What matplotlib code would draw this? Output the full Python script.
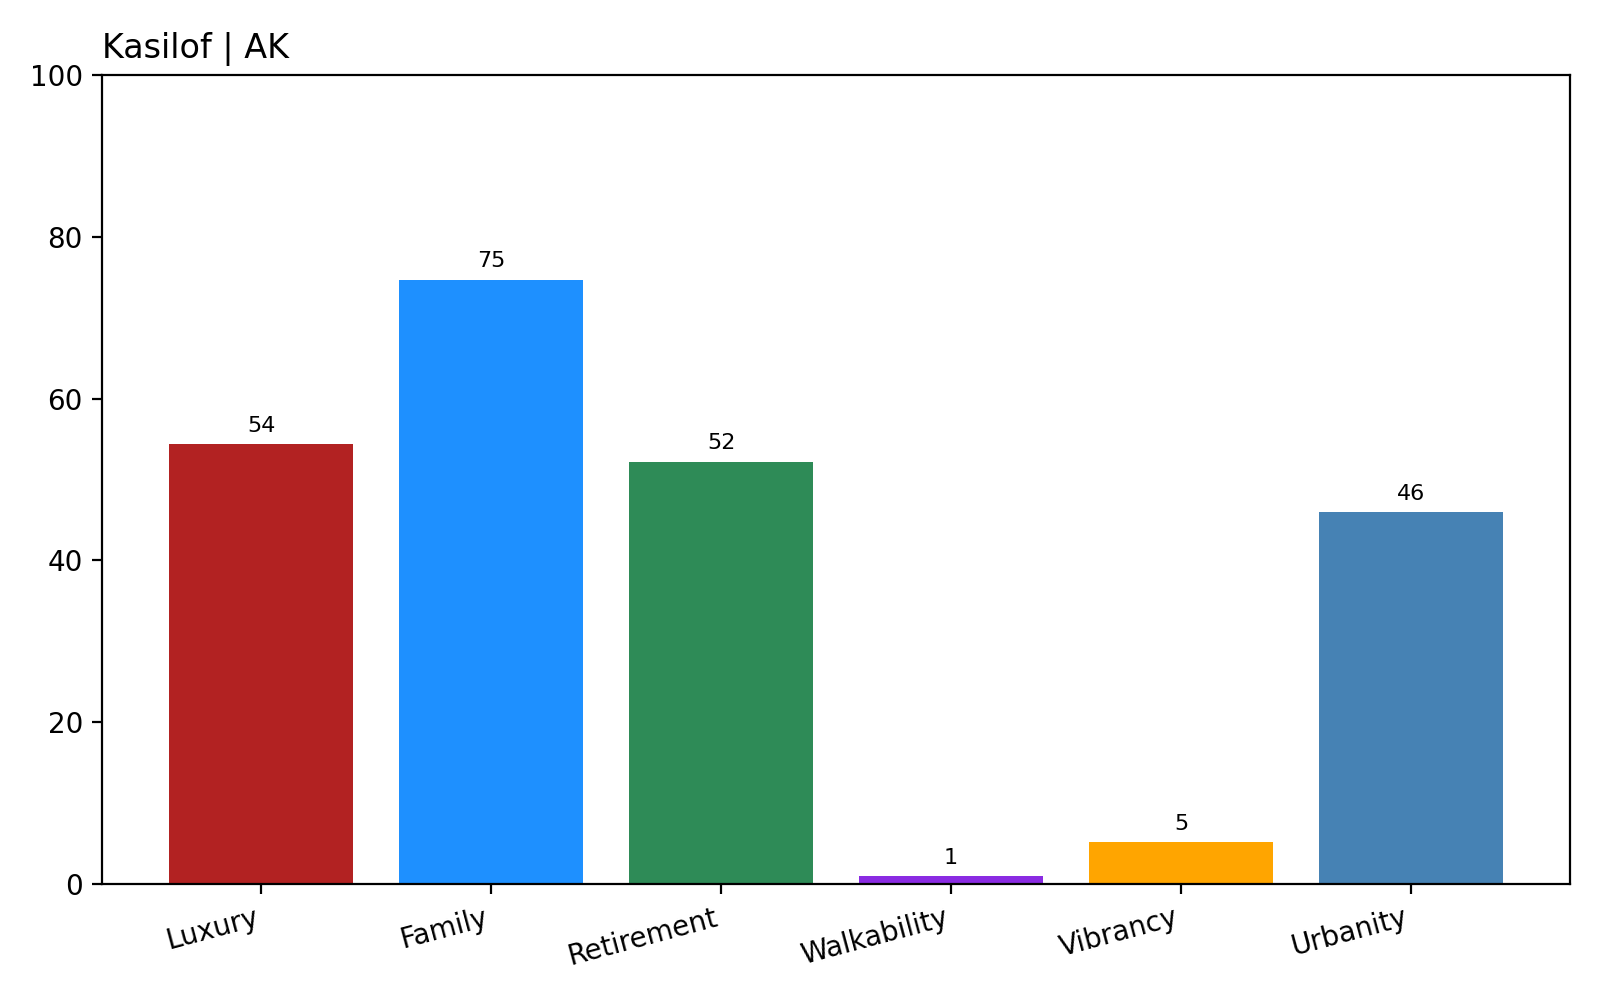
import matplotlib
matplotlib.use("Agg")
import matplotlib.pyplot as plt

categories = ["Luxury", "Family", "Retirement", "Walkability", "Vibrancy", "Urbanity"]
scores = [54.4, 74.7, 52.2, 1.0, 5.2, 46.0]
colors = ["firebrick", "dodgerblue", "seagreen", "blueviolet", "orange", "steelblue"]
title = "Kasilof | AK"

fig, ax = plt.subplots(figsize=(8, 5), dpi=200)
fig.subplots_adjust(left=0.064, right=0.981, top=0.925, bottom=0.116)

bars = ax.bar(categories, scores, color=colors, width=0.8)
for bar, val in zip(bars, scores):
    ax.annotate(f"{round(val)}", (bar.get_x() + bar.get_width() / 2, bar.get_height()),
                xytext=(0, 3), textcoords="offset points", ha="center", va="bottom", fontsize=8)

ax.set_ylim(0, 100)
ax.set_title(title, loc="left")
plt.setp(ax.get_xticklabels(), rotation=15, ha="right")

plt.savefig("out.png")
